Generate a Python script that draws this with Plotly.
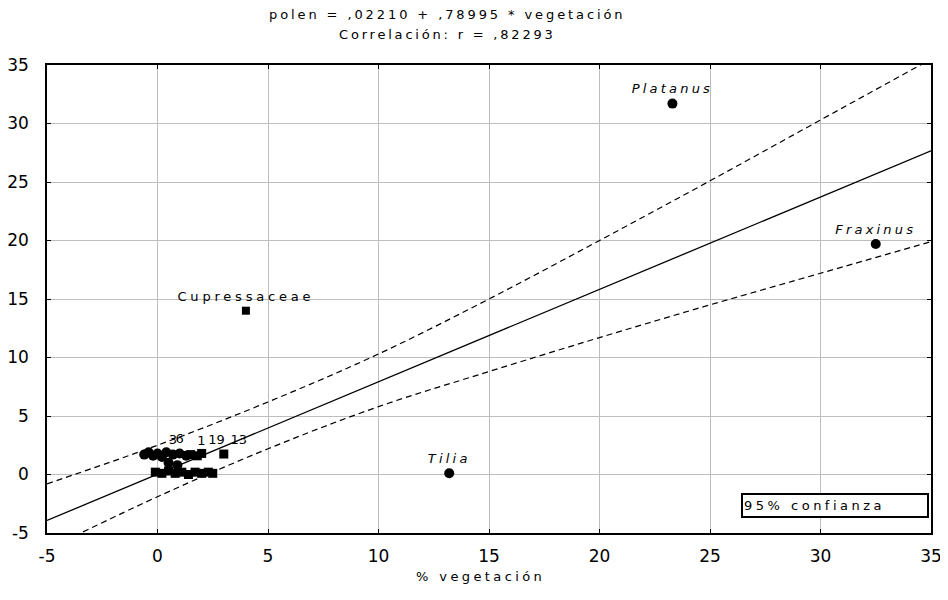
import plotly.graph_objects as go

# ---- data ----
intercept = 0.02210
slope = 0.78995
fit_x = [-5, 35]

band_x = [-5, 0, 5, 10, 15, 20, 25, 30, 35]
band_upper = [-0.8, 2.5, 6.2, 10.3, 15.0, 20.0, 25.1, 30.3, 35.5]
band_lower = [-6.4, -1.9, 2.2, 5.8, 8.8, 11.7, 14.5, 17.2, 19.9]

named_x = [23.3, 32.5, 13.2]
named_y = [31.7, 19.7, 0.1]
named_lbl = ["Platanus", "Fraxinus", "Tilia"]

sq_x = [4.0]
sq_y = [14.0]
sq_lbl = ["Cupressaceae"]

cl_circ_x = [-0.6, -0.4, -0.2, 0.0, 0.2, 0.4, 0.7, 1.0, 1.3, 0.5, 0.9]
cl_circ_y = [1.7, 1.9, 1.6, 1.8, 1.5, 1.9, 1.7, 1.8, 1.6, 1.0, 0.8]
cl_circ_lbl = ["", "", "", "", "", "", "3", "6", "", "", ""]

cl_sq_x = [1.5, 1.8, 2.0, 3.0, -0.1, 0.2, 0.5, 0.8, 1.1, 1.4, 1.7, 2.0, 2.3, 2.5]
cl_sq_y = [1.7, 1.6, 1.8, 1.75, 0.2, 0.1, 0.3, 0.1, 0.2, 0.0, 0.2, 0.1, 0.2, 0.1]
cl_sq_lbl = ["1", "", "19", "13", "", "", "", "", "", "", "", "", "", ""]

x_ticks = [-5, 0, 5, 10, 15, 20, 25, 30, 35]
y_ticks = [-5, 0, 5, 10, 15, 20, 25, 30, 35]

title_l1 = "polen = ,02210 + ,78995 * vegetación"
title_l2 = "Correlación: r = ,82293"
x_title = "% vegetación"
legend_text = "95% confianza"

# ---- figure ----
FONT = "DejaVu Sans, Verdana, sans-serif"


def spaced(s, px):
    return '<span style="letter-spacing:%spx">%s</span>' % (px, s)


fit_y = [intercept + slope * v for v in fit_x]

fig = go.Figure()
dash = dict(color="black", width=1.2, dash="6px,4px", shape="spline")
fig.add_trace(go.Scatter(x=band_x, y=band_upper, mode="lines", line=dash, showlegend=False, hoverinfo="skip"))
fig.add_trace(go.Scatter(x=band_x, y=band_lower, mode="lines", line=dash, showlegend=False, hoverinfo="skip"))
fig.add_trace(go.Scatter(x=fit_x, y=fit_y, mode="lines", line=dict(color="black", width=1.3), showlegend=False))

lblfont = dict(family=FONT, size=13, color="black")
fig.add_trace(go.Scatter(x=named_x, y=named_y, mode="markers+text",
                         text=[spaced("<i>%s</i>" % t, 3.2) for t in named_lbl], textposition="top center",
                         marker=dict(symbol="circle", size=10, color="black"),
                         textfont=lblfont, showlegend=False))
fig.add_trace(go.Scatter(x=sq_x, y=sq_y, mode="markers+text", text=[spaced(t, 3.8) for t in sq_lbl],
                         textposition="top center",
                         marker=dict(symbol="square", size=8, color="black"),
                         textfont=lblfont, showlegend=False))
fig.add_trace(go.Scatter(x=cl_circ_x, y=cl_circ_y, mode="markers+text", text=cl_circ_lbl, textposition="top center",
                         marker=dict(symbol="circle", size=10, color="black"),
                         textfont=lblfont, showlegend=False))
fig.add_trace(go.Scatter(x=cl_sq_x, y=cl_sq_y, mode="markers+text", text=cl_sq_lbl, textposition="top right",
                         marker=dict(symbol="square", size=9, color="black"),
                         textfont=lblfont, showlegend=False))

axis_common = dict(showgrid=True, gridcolor="#bdbdbd", gridwidth=1, zeroline=False,
                   showline=True, linecolor="black", linewidth=1.5, mirror="ticks",
                   ticks="inside", ticklen=4, tickcolor="black", automargin=False,
                   tickfont=dict(family=FONT, size=17, color="black"))

fig.update_xaxes(range=[-5, 35], tickvals=x_ticks, ticktext=[str(v) for v in x_ticks],
                 ticklabelstandoff=7, **axis_common)
fig.update_yaxes(range=[-5, 35], tickvals=y_ticks, ticktext=[str(v) for v in y_ticks],
                 ticklabelstandoff=13, **axis_common)

tfont = dict(family=FONT, size=13, color="black")
fig.add_annotation(x=0.453, y=1.107, xref="paper", yref="paper", text=spaced(title_l1, 2.9), showarrow=False,
                   font=tfont, xanchor="center", yanchor="middle")
fig.add_annotation(x=0.453, y=1.066, xref="paper", yref="paper", text=spaced(title_l2, 2.8), showarrow=False,
                   font=tfont, xanchor="center", yanchor="middle")
fig.add_annotation(x=0.49, y=-0.094, xref="paper", yref="paper", text=spaced(x_title, 3.4), showarrow=False,
                   font=tfont, xanchor="center", yanchor="middle")
fig.add_annotation(x=0.998, y=0.032, xref="paper", yref="paper", text=spaced(legend_text, 3.5), showarrow=False,
                   xanchor="right", yanchor="bottom", align="left",
                   font=dict(family=FONT, size=13, color="black"),
                   bordercolor="black", borderwidth=2, borderpad=1, bgcolor="white", width=182, height=19)

# page has an 8px body margin, so the figure is 940x592 to fill the 948x600 window
fig.update_layout(width=940, height=592, margin=dict(l=39, r=17, t=57, b=67),
                  plot_bgcolor="white", paper_bgcolor="white", showlegend=False)

fig.write_html("out.html")
